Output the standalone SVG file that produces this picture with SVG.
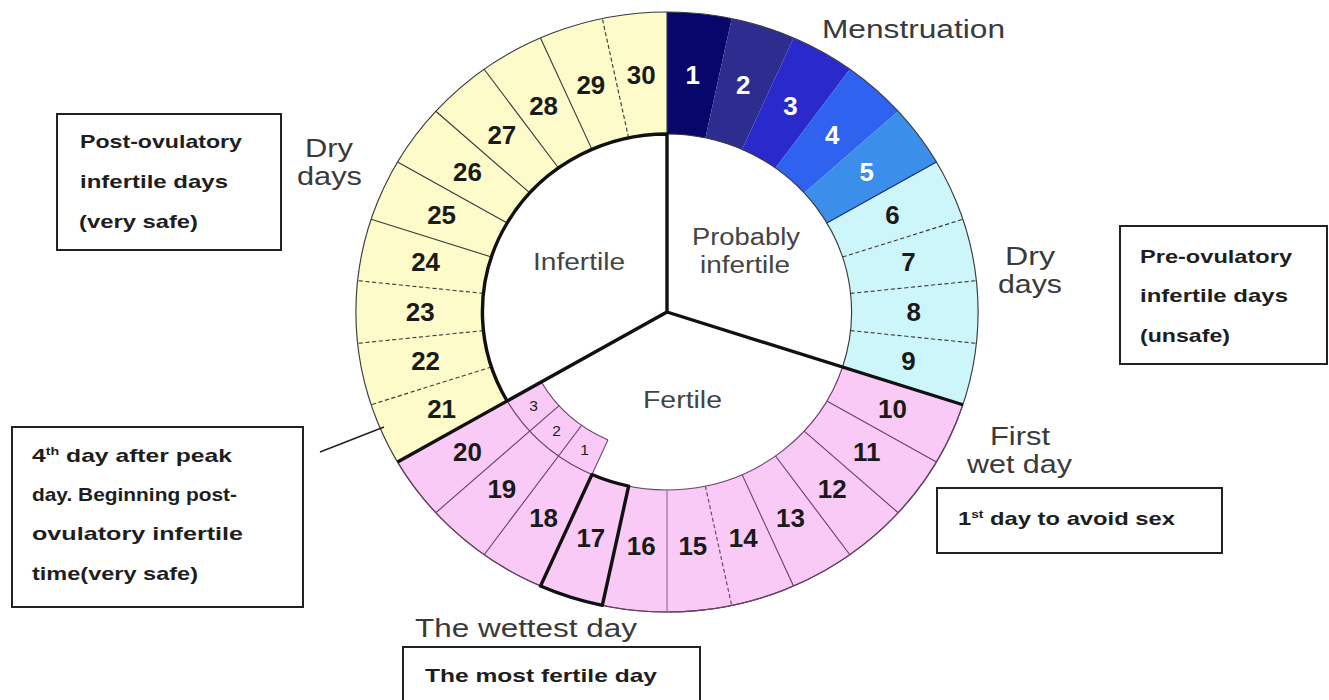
<svg xmlns="http://www.w3.org/2000/svg" width="1329" height="700" viewBox="0 0 1329 700">
<style>
.num{font-family:"Liberation Sans",Arial,sans-serif;font-weight:bold;font-size:25px;fill:#1a1a1a;text-anchor:middle;dominant-baseline:central}
.numw{fill:#ffffff}
.snum{font-family:"Liberation Sans",Arial,sans-serif;font-size:15px;fill:#222;text-anchor:middle;dominant-baseline:central}
.lbl{font-family:"Liberation Sans",Arial,sans-serif;font-size:23px;fill:#444}
.ann{font-family:"Liberation Sans",Arial,sans-serif;font-size:25px;fill:#3a3a3a}
.box{fill:#fff;stroke:#222;stroke-width:2}
.bt{font-family:"Liberation Sans",Arial,sans-serif;font-weight:bold;font-size:19px;fill:#1e1e1e}
.thin{fill:none;stroke:#3a3a3a;stroke-width:1.1}
.dash{fill:none;stroke:#3a3a3a;stroke-width:1.1;stroke-dasharray:4 2.5}
.pl{fill:none;stroke:#6e3f6e;stroke-width:1.1}
.pdash{fill:none;stroke:#6e3f6e;stroke-width:1.1;stroke-dasharray:4 2.5}
.thick{fill:none;stroke:#111;stroke-width:3.3;stroke-linejoin:round}
</style>
<rect x="0" y="0" width="1329" height="700" fill="#fff"/>
<g id="ring" transform="translate(667,312) scale(1.037,1)">
  <g id="fills" stroke="none">
    <path fill="#06066b" d="M0,-300 A300,300 0 0 1 62.37,-293.45 L37.01,-174.11 A178,178 0 0 0 0,-178Z"/>
    <path fill="#2d2d8f" d="M62.37,-293.45 A300,300 0 0 1 122.02,-274.07 L72.40,-162.61 A178,178 0 0 0 37.01,-174.11Z"/>
    <path fill="#2a2acc" d="M122.02,-274.07 A300,300 0 0 1 176.34,-242.71 L104.63,-144.01 A178,178 0 0 0 72.40,-162.61Z"/>
    <path fill="#2f62ee" d="M176.34,-242.71 A300,300 0 0 1 222.94,-200.74 L132.28,-119.11 A178,178 0 0 0 104.63,-144.01Z"/>
    <path fill="#3b8eea" d="M222.94,-200.74 A300,300 0 0 1 259.81,-150 L154.15,-89 A178,178 0 0 0 132.28,-119.11Z"/>
    <path fill="#ccf6fa" d="M259.81,-150 A300,300 0 0 1 285.32,92.71 L169.29,55.01 A178,178 0 0 0 154.15,-89Z"/>
    <path fill="#f9caf5" d="M285.32,92.71 A300,300 0 0 1 -259.81,150 L-154.15,89 A178,178 0 0 0 169.29,55.01Z"/>
    <path fill="#f9caf5" d="M-72.40,162.61 A178,178 0 0 1 -154.15,89 L-121.24,70 A140,140 0 0 0 -56.94,127.90Z"/>
    <path fill="#fefbcb" d="M-259.81,150 A300,300 0 0 1 0,-300 L0,-178 A178,178 0 0 0 -154.15,89Z"/>
  </g>
  <g id="connectors">
    <circle cx="0" cy="0" r="300" class="thin"/>
    <path class="pl" d="M285.32,92.71 A300,300 0 0 1 -259.81,150"/>
    <path class="thin" d="M0,-178 A178,178 0 0 1 169.29,55.01"/>
    <path class="pl" d="M169.29,55.01 A178,178 0 0 1 -154.15,89"/>
    <path class="pl" d="M-56.94,127.90 A140,140 0 0 1 -121.24,70 M-56.94,127.90 L-72.40,162.61"/>
    <path class="thin" d="M0,-178 L0,-300"/>
    <path fill="none" stroke="#1e2a70" stroke-width="1.2" d="M154.15,-89 L259.81,-150"/>
    <path class="dash" d="M169.29,-55.01 L285.32,-92.71 M177.02,-18.61 L298.36,-31.36 M177.02,18.61 L298.36,31.36"/>
    <path class="pl" d="M154.15,89 L259.81,150 M132.28,119.11 L222.94,200.74 M104.63,144.01 L176.34,242.71 M72.40,162.61 L122.02,274.07"/>
    <path class="pdash" d="M37.01,174.11 L62.37,293.45"/>
    <path fill="none" stroke="#9a6a9a" stroke-width="1.1" d="M0,178 L0,300"/>
    <path class="pl" d="M-82.29,113.26 L-176.34,242.71 M-104.04,93.68 L-222.94,200.74"/>
    <path class="dash" d="M-169.29,55.01 L-285.32,92.71 M-177.02,18.61 L-298.36,31.36 M-177.02,-18.61 L-298.36,-31.36 M-37.01,-174.11 L-62.37,-293.45"/>
    <path class="thin" d="M-169.29,-55.01 L-285.32,-92.71 M-154.15,-89 L-259.81,-150 M-132.28,-119.11 L-222.94,-200.74 M-104.63,-144.01 L-176.34,-242.71 M-72.40,-162.61 L-122.02,-274.07"/>
    <path class="thick" d="M-154.15,89 A178,178 0 0 1 0,-178 L0,0 L285.32,92.71 M0,0 L-259.81,150"/>
    <path class="thick" d="M-62.37,293.45 A300,300 0 0 1 -122.02,274.07 L-72.40,162.61 A178,178 0 0 0 -37.01,174.11Z"/>
  </g>
  <g id="numbers">
    <text class="num numw" x="24.9" y="-236.7">1</text>
    <text class="num numw" x="73.5" y="-226.4">2</text>
    <text class="num numw" x="119" y="-206.1">3</text>
    <text class="num numw" x="159.3" y="-176.9">4</text>
    <text class="num numw" x="192.5" y="-139.9">5</text>
    <text class="num" x="217.4" y="-96.8">6</text>
    <text class="num" x="232.8" y="-49.5">7</text>
    <text class="num" x="238" y="0">8</text>
    <text class="num" x="232.8" y="49.5">9</text>
    <text class="num" x="217.4" y="96.8">10</text>
    <text class="num" x="192.5" y="139.9">11</text>
    <text class="num" x="159.3" y="176.9">12</text>
    <text class="num" x="119" y="206.1">13</text>
    <text class="num" x="73.5" y="226.4">14</text>
    <text class="num" x="24.9" y="234">15</text>
    <text class="num" x="-24.9" y="234">16</text>
    <text class="num" x="-73.5" y="226.4">17</text>
    <text class="num" x="-119" y="206.1">18</text>
    <text class="num" x="-159.3" y="176.9">19</text>
    <text class="num" x="-192.5" y="139.9">20</text>
    <text class="num" x="-217.4" y="96.8">21</text>
    <text class="num" x="-232.8" y="49.5">22</text>
    <text class="num" x="-238" y="0">23</text>
    <text class="num" x="-232.8" y="-49.5">24</text>
    <text class="num" x="-217.4" y="-96.8">25</text>
    <text class="num" x="-192.5" y="-139.9">26</text>
    <text class="num" x="-159.3" y="-176.9">27</text>
    <text class="num" x="-119" y="-206.1">28</text>
    <text class="num" x="-73.5" y="-226.4">29</text>
    <text class="num" x="-24.9" y="-236.7">30</text>
    <text class="snum" x="-128.6" y="93.5">3</text>
    <text class="snum" x="-106.4" y="118.2">2</text>
    <text class="snum" x="-79.5" y="137.7">1</text>
  </g>
</g>
<g id="inner-labels">
  <text class="lbl" x="533" y="270" textLength="92" lengthAdjust="spacingAndGlyphs">Infertile</text>
  <text class="lbl" x="692" y="245" textLength="108" lengthAdjust="spacingAndGlyphs">Probably</text>
  <text class="lbl" x="700" y="273" textLength="90" lengthAdjust="spacingAndGlyphs">infertile</text>
  <text class="lbl" x="643" y="408" textLength="79" lengthAdjust="spacingAndGlyphs">Fertile</text>
</g>
<g id="annotations">
  <text class="ann" x="822" y="38" font-size="24" textLength="183" lengthAdjust="spacingAndGlyphs">Menstruation</text>
  <text class="ann" x="305" y="157" textLength="48" lengthAdjust="spacingAndGlyphs">Dry</text>
  <text class="ann" x="297" y="185" textLength="65" lengthAdjust="spacingAndGlyphs">days</text>
  <text class="ann" x="1005" y="265" textLength="50" lengthAdjust="spacingAndGlyphs">Dry</text>
  <text class="ann" x="998" y="293" textLength="64" lengthAdjust="spacingAndGlyphs">days</text>
  <text class="ann" x="990" y="445" textLength="60" lengthAdjust="spacingAndGlyphs">First</text>
  <text class="ann" x="967" y="473" textLength="105" lengthAdjust="spacingAndGlyphs">wet day</text>
  <text class="ann" x="415" y="637" font-size="26" textLength="222" lengthAdjust="spacingAndGlyphs">The wettest day</text>
</g>
<g id="leader">
  <line x1="320" y1="452" x2="384" y2="427" stroke="#222" stroke-width="1.5"/>
</g>
<g id="box-post-ovulatory">
  <rect class="box" x="57" y="114" width="224" height="136"/>
  <text class="bt" x="80" y="148" textLength="162" lengthAdjust="spacingAndGlyphs">Post-ovulatory</text>
  <text class="bt" x="80" y="188" textLength="148" lengthAdjust="spacingAndGlyphs">infertile days</text>
  <text class="bt" x="79" y="228" textLength="119" lengthAdjust="spacingAndGlyphs">(very safe)</text>
</g>
<g id="box-fourth-day">
  <rect class="box" x="12" y="427" width="291" height="180"/>
  <text class="bt" x="32" y="462" textLength="200" lengthAdjust="spacingAndGlyphs">4<tspan font-size="11" dy="-7">th</tspan><tspan dy="7"> day after peak</tspan></text>
  <text class="bt" x="32" y="501" textLength="205" lengthAdjust="spacingAndGlyphs">day. Beginning post-</text>
  <text class="bt" x="32" y="540" textLength="211" lengthAdjust="spacingAndGlyphs">ovulatory infertile</text>
  <text class="bt" x="32" y="580" textLength="166" lengthAdjust="spacingAndGlyphs">time(very safe)</text>
</g>
<g id="box-pre-ovulatory">
  <rect class="box" x="1120" y="226" width="207" height="138"/>
  <text class="bt" x="1140" y="263" textLength="152" lengthAdjust="spacingAndGlyphs">Pre-ovulatory</text>
  <text class="bt" x="1140" y="302" textLength="148" lengthAdjust="spacingAndGlyphs">infertile days</text>
  <text class="bt" x="1140" y="342" textLength="90" lengthAdjust="spacingAndGlyphs">(unsafe)</text>
</g>
<g id="box-first-day">
  <rect class="box" x="937" y="488" width="285" height="65"/>
  <text class="bt" x="958" y="525" textLength="217" lengthAdjust="spacingAndGlyphs">1<tspan font-size="11" dy="-7">st</tspan><tspan dy="7"> day to avoid sex</tspan></text>
</g>
<g id="box-most-fertile">
  <rect class="box" x="403" y="647" width="297" height="70"/>
  <text class="bt" x="425" y="682" textLength="232" lengthAdjust="spacingAndGlyphs">The most fertile day</text>
</g>
</svg>
